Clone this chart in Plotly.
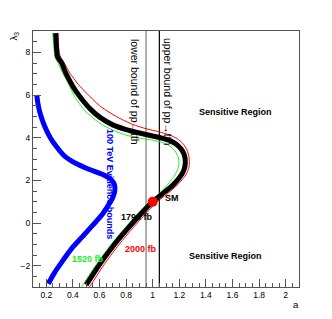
import plotly.graph_objects as go

# 1790 fb contour (black)
black_a = [0.27, 0.276, 0.283, 0.295, 0.316, 0.335, 0.353, 0.40, 0.453, 0.53, 0.604, 0.70, 0.80, 0.90, 1.00,
           1.07, 1.13, 1.175, 1.21, 1.232, 1.243, 1.245, 1.238, 1.222, 1.20, 1.17, 1.135, 1.095, 1.05, 1.00,
           0.90, 0.80, 0.70, 0.60, 0.50]
black_l = [8.9, 8.3, 7.82, 7.68, 7.5, 7.2, 6.94, 6.4, 5.92, 5.35, 4.95, 4.6, 4.38, 4.22, 4.08,
           3.98, 3.86, 3.7, 3.5, 3.28, 3.05, 2.8, 2.55, 2.32, 2.12, 1.9, 1.68, 1.48, 1.25, 1.0,
           0.35, -0.35, -1.1, -1.95, -2.9]

# 2000 fb contour (red)
red_a = [0.288, 0.292, 0.298, 0.31, 0.33, 0.355, 0.378, 0.44, 0.504, 0.60, 0.729, 0.85, 0.95, 1.05, 1.13,
         1.185, 1.228, 1.258, 1.272, 1.276, 1.27, 1.253, 1.228, 1.195, 1.16, 1.12, 1.08, 1.035,
         0.935, 0.835, 0.735, 0.635, 0.535, 0.525]
red_l = [8.9, 8.3, 7.95, 7.75, 7.55, 7.28, 7.02, 6.5, 6.08, 5.5, 4.98, 4.62, 4.42, 4.27, 4.12,
         3.95, 3.72, 3.42, 3.12, 2.82, 2.55, 2.3, 2.08, 1.85, 1.63, 1.42, 1.22, 1.0,
         0.35, -0.35, -1.1, -1.95, -2.9, -3.0]

# 1520 fb contour (green)
green_a = [0.248, 0.256, 0.265, 0.28, 0.30, 0.325, 0.353, 0.42, 0.50, 0.604, 0.70, 0.80, 0.90, 1.00, 1.06,
           1.11, 1.15, 1.178, 1.193, 1.197, 1.19, 1.172, 1.148, 1.115, 1.08, 1.04, 0.975,
           0.875, 0.775, 0.675, 0.575, 0.475, 0.465]
green_l = [8.9, 8.3, 7.8, 7.6, 7.35, 7.0, 6.7, 5.85, 5.2, 4.67, 4.35, 4.12, 3.98, 3.88, 3.8,
           3.68, 3.5, 3.28, 3.05, 2.8, 2.55, 2.3, 2.08, 1.82, 1.58, 1.33, 1.0,
           0.35, -0.35, -1.1, -1.95, -2.9, -3.0]

# 100 TeV evidence bounds (blue)
blue_a = [0.128, 0.14, 0.16, 0.19, 0.23, 0.28, 0.34, 0.42, 0.52, 0.62, 0.685, 0.712, 0.715, 0.70,
          0.675, 0.62, 0.55, 0.47, 0.39, 0.32, 0.26, 0.215]
blue_l = [6.0, 5.5, 5.0, 4.5, 4.0, 3.55, 3.12, 2.8, 2.52, 2.28, 2.05, 1.8, 1.5, 1.2,
          0.92, 0.4, -0.1, -0.65, -1.2, -1.8, -2.35, -2.85]

# pp -> tth bounds
bound_lower = 0.95
bound_upper = 1.05
sm_a = [1.0]
sm_l = [1.0]

x_range = [0.1, 2.1]
y_range = [-3, 9]

fig = go.Figure()
fig.add_trace(go.Scatter(x=[bound_lower, bound_lower], y=y_range, mode="lines",
                         line=dict(color="#777777", width=1.2)))
fig.add_trace(go.Scatter(x=[bound_upper, bound_upper], y=y_range, mode="lines",
                         line=dict(color="#000000", width=1.2)))
fig.add_trace(go.Scatter(x=green_a, y=green_l, mode="lines",
                         line=dict(color="#22ee22", width=1, shape="spline", smoothing=0.6)))
fig.add_trace(go.Scatter(x=red_a, y=red_l, mode="lines",
                         line=dict(color="#ff0000", width=1, shape="spline", smoothing=0.6)))
fig.add_trace(go.Scatter(x=black_a, y=black_l, mode="lines",
                         line=dict(color="#000000", width=5, shape="spline", smoothing=0.6)))
fig.add_trace(go.Scatter(x=blue_a, y=blue_l, mode="lines",
                         line=dict(color="#0000ff", width=5, shape="spline", smoothing=0.8)))
fig.add_trace(go.Scatter(x=sm_a, y=sm_l, mode="markers",
                         marker=dict(color="#ff0000", size=10)))

F = "Liberation Sans, Arial, sans-serif"

def ann(x, y, text, size=9, color="black", bold=True, angle=0, xanchor="center"):
    fig.add_annotation(x=x, y=y, xref="x", yref="y", text=("<b>%s</b>" % text) if bold else text,
                       showarrow=False, textangle=angle, xanchor=xanchor,
                       font=dict(family=F, size=size, color=color))

ann(1.62, 5.2, "Sensitive Region")
ann(1.55, -1.55, "Sensitive Region")
ann(1.145, 1.17, "SM")
ann(0.882, 0.28, "1790 fb")
ann(0.912, -1.22, "2000 fb", color="#ff0000")
ann(0.514, -1.69, "1520 fb", color="#22ee22")
ann(0.679, 1.83, "100 TeV Evidence bounds", color="#0000ff", angle=90)
ann(0.867, 6.14, "lower bound of pp→tth", size=10.5, bold=False, angle=90)
ann(1.115, 6.14, "upper bound of pp→tth", size=10.5, bold=False, angle=90)

fig.add_annotation(x=1.008, y=-0.07, xref="paper", yref="paper", text="a", showarrow=False,
                   xanchor="right", yanchor="middle", font=dict(family=F, size=9.5, color="black"))
fig.add_annotation(x=-0.07, y=0.98, xref="paper", yref="paper", text="λ<sub>3</sub>",
                   showarrow=False, textangle=-90, xanchor="center", yanchor="middle",
                   borderpad=0, font=dict(family=F, size=9.5, color="black"))

axis_common = dict(showgrid=False, zeroline=False, showline=True, linecolor="#555555",
                   linewidth=1, mirror=True, ticks="inside", ticklen=8, tickcolor="#555555",
                   automargin=False,
                   tickfont=dict(family=F, size=8.5, color="black"))
fig.update_xaxes(range=x_range, dtick=0.2, tick0=0, **axis_common,
                 minor=dict(ticks="inside", ticklen=4, dtick=0.05, tickcolor="#555555"))
fig.update_yaxes(range=y_range, dtick=2, tick0=0, **axis_common,
                 minor=dict(ticks="inside", ticklen=4, dtick=0.5, tickcolor="#555555"))
# page body adds an 8px offset, so the figure is sized to keep the frame where the reference has it
fig.update_layout(width=324, height=311, autosize=False, showlegend=False,
                  margin=dict(l=25, r=33, t=23, b=32), plot_bgcolor="white",
                  paper_bgcolor="white")
fig.write_html("out.html")
